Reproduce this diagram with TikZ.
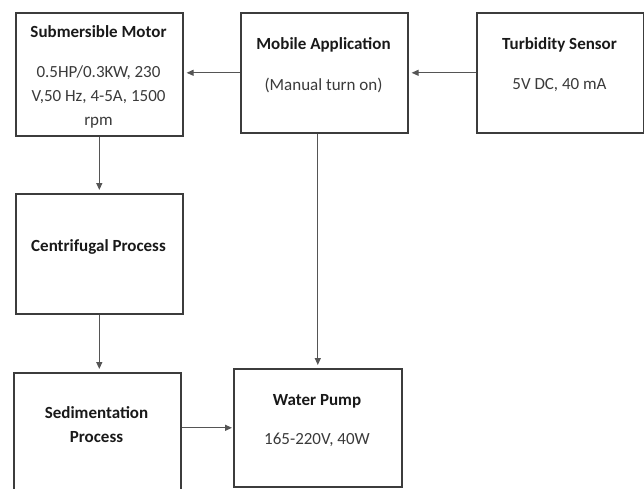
\documentclass[tikz,border=0pt]{standalone}
\usepackage{fontspec}
\setmainfont{Carlito}
\usetikzlibrary{arrows.meta}
\definecolor{boxline}{HTML}{3C3C3C}
\definecolor{wire}{HTML}{555555}
\definecolor{bodytext}{HTML}{3A3A3A}
\tikzset{
  blk/.style={draw=boxline, line width=1.6pt, rectangle, anchor=north west, inner sep=0pt},
  ttl/.style={font=\bfseries\fontsize{17}{24}\selectfont, text=black!90, inner sep=0pt},
  txt/.style={font=\fontsize{17}{24}\selectfont, text=bodytext, align=center, inner sep=0pt},
  link/.style={draw=wire, line width=1.2pt, -{Triangle[length=7pt,width=6pt]}, shorten >=3pt}
}
\begin{document}
\begin{tikzpicture}[x=1pt,y=-1pt]
\useasboundingbox (0,0) rectangle (644,488);
\clip (0,0) rectangle (644,488);

% blocks
\node[blk, minimum width=167pt, minimum height=123pt] (mot) at (15,12) {};
\node[blk, minimum width=167pt, minimum height=120pt] (mob) at (240,12) {};
\node[blk, minimum width=167pt, minimum height=120pt] (tur) at (476,12) {};
\node[blk, minimum width=167pt, minimum height=120pt] (cen) at (15,193) {};
\node[blk, minimum width=167pt, minimum height=135pt] (sed) at (13,372) {};
\node[blk, minimum width=168pt, minimum height=118pt] (pmp) at (233,368) {};

% labels
\node[ttl] (motT) at (98.5,32) {Submersible Motor};
\node[txt] (motB) at (98.5,97) {0.5HP/0.3KW, 230\\V,50 Hz, 4-5A, 1500\\rpm};
\node[ttl] (mobT) at (323.5,45) {Mobile Application};
\node[txt] (mobB) at (323.5,85) {(Manual turn on)};
\node[ttl] (turT) at (559.5,45) {Turbidity Sensor};
\node[txt] (turB) at (559.5,85) {5V DC, 40 mA};
\node[ttl] (cenT) at (98.5,247) {Centrifugal Process};
\node[ttl, align=center] (sedT) at (96.5,425) {Sedimentation\\Process};
\node[ttl] (pmpT) at (317,401) {Water Pump};
\node[txt] (pmpB) at (317,440) {165-220V, 40W};

% connectors
\draw[link] (tur.west) -- (tur.west -| mob.east);
\draw[link] (mob.west) -- (mob.west -| mot.east);
\draw[link] (mot.south) -- (mot.south |- cen.north);
\draw[link] (cen.south) -- (cen.south |- sed.north);
\draw[link] (pmp.north |- mob.south) -- (pmp.north);
\draw[link, shorten >=1pt] (sed.east |- pmp.west) -- (pmp.west);
\end{tikzpicture}
\end{document}
